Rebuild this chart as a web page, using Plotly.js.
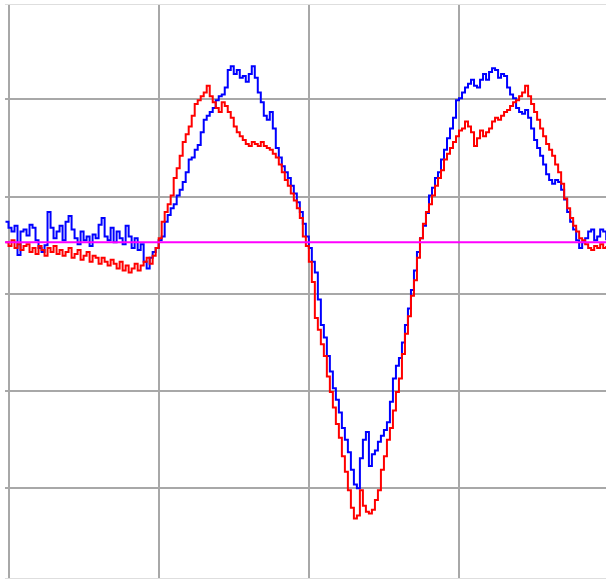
<!DOCTYPE html>
<html>
<head>
<meta charset="utf-8">
<script src="https://cdn.plot.ly/plotly-3.0.1.min.js"></script>
<style>
  html, body { margin: 0; padding: 0; background: #ffffff; }
  #chart { width: 606px; height: 580px; }
</style>
</head>
<body>
<div id="chart"></div>
<script>
// Two sampled channels, one value per sample (first sample index -1, step 1).
const firstSample = -1;

const channelBlue = [
  -26, -32, -36, -30, -60, -36, -34, -40, -29, -32,
  -45, -53, -57, -50, -16, -32, -43, -36, -30, -45,
  -26, -20, -34, -43, -49, -36, -45, -41, -51, -39,
  -43, -29, -22, -41, -45, -32, -47, -36, -43, -49,
  -30, -41, -53, -43, -55, -49, -67, -74, -63, -57,
  -53, -45, -41, -26, -19, -12, -8, 1, 7, 15,
  25, 38, 40, 48, 53, 66, 79, 83, 87, 91,
  99, 103, 105, 112, 130, 134, 126, 130, 122, 124,
  118, 126, 134, 122, 107, 97, 83, 79, 87, 70,
  50, 40, 31, 25, 19, 11, 3, -6, -16, -28,
  -41, -53, -67, -78, -106, -132, -145, -164, -180, -197,
  -209, -222, -238, -250, -263, -281, -296, -300, -269, -250,
  -242, -277, -265, -261, -252, -246, -240, -232, -211, -187,
  -174, -166, -150, -132, -115, -96, -76, -57, -43, -30,
  -17, 1, 9, 19, 25, 38, 48, 60, 70, 81,
  99, 101, 107, 112, 116, 120, 114, 112, 120, 126,
  120, 128, 132, 130, 122, 126, 124, 112, 105, 101,
  91, 87, 85, 89, 81, 70, 58, 50, 42, 33,
  23, 17, 13, 17, 15, 7, -3, -16, -26, -34,
  -45, -53, -47, -43, -36, -34, -45, -41, -34, -36,
  -45
];

const channelRed = [
  -47, -51, -45, -53, -49, -55, -51, -49, -57, -53,
  -59, -51, -55, -61, -53, -57, -51, -59, -55, -61,
  -57, -53, -63, -59, -55, -65, -61, -57, -67, -61,
  -63, -69, -63, -67, -71, -65, -69, -74, -67, -76,
  -71, -78, -74, -69, -76, -71, -67, -63, -69, -61,
  -53, -43, -26, -16, -8, 1, 19, 29, 42, 56,
  64, 72, 83, 95, 99, 103, 107, 114, 103, 97,
  91, 87, 97, 93, 87, 81, 72, 66, 62, 58,
  54, 52, 56, 54, 52, 56, 52, 50, 48, 44,
  40, 33, 25, 17, 11, 3, -4, -12, -22, -41,
  -51, -67, -88, -125, -137, -152, -164, -185, -201, -217,
  -234, -248, -267, -283, -302, -320, -331, -328, -302, -318,
  -324, -326, -322, -312, -302, -281, -267, -250, -238, -220,
  -201, -187, -162, -141, -123, -102, -86, -63, -43, -28,
  -16, -8, 1, 11, 19, 27, 38, 44, 50, 56,
  62, 68, 70, 77, 72, 66, 52, 60, 68, 62,
  66, 70, 77, 81, 79, 83, 87, 89, 93, 97,
  99, 103, 107, 114, 103, 95, 87, 79, 70, 62,
  54, 48, 42, 33, 25, 13, -2, -12, -22, -30,
  -36, -43, -45, -49, -53, -55, -51, -53, -49, -53,
  -51
];

// Reference level drawn across the full width
const baseline = -47;

// Axis extents (sample index / signal units) and grid spacing
const sampleRange = [-1.165, 198.94];
const sampleGrid = 50;
const levelRange = [-392.2, 196.9];
const levelGrid = 100;

const traces = [
  {
    type: 'scatter', mode: 'lines',
    x0: firstSample, dx: 1, y: channelBlue,
    line: { color: '#0000ff', width: 2, shape: 'hv' },
    hoverinfo: 'skip'
  },
  {
    type: 'scatter', mode: 'lines',
    x0: firstSample, dx: 1, y: channelRed,
    line: { color: '#ff0000', width: 2, shape: 'hv' },
    hoverinfo: 'skip'
  }
];

const layout = {
  width: 606, height: 580,
  margin: { l: 5, r: 0, t: 5, b: 2, pad: 0 },
  paper_bgcolor: '#ffffff',
  plot_bgcolor: '#ffffff',
  showlegend: false,
  xaxis: {
    range: sampleRange,
    tick0: 0, dtick: sampleGrid,
    showgrid: true, gridcolor: '#a8a8a8', gridwidth: 2,
    zeroline: false, showticklabels: false, ticks: '',
    showline: true, mirror: true, linecolor: '#dedede', linewidth: 1
  },
  yaxis: {
    range: levelRange,
    tick0: 0, dtick: levelGrid,
    showgrid: true, gridcolor: '#a8a8a8', gridwidth: 2,
    zeroline: false, showticklabels: false, ticks: '',
    showline: false
  },
  shapes: [
    {
      type: 'line', layer: 'above',
      xref: 'paper', x0: 0, x1: 1,
      yref: 'y', y0: baseline, y1: baseline,
      line: { color: '#ff00ff', width: 2 }
    }
  ]
};

Plotly.newPlot('chart', traces, layout, { displayModeBar: false, staticPlot: true });
</script>
</body>
</html>
